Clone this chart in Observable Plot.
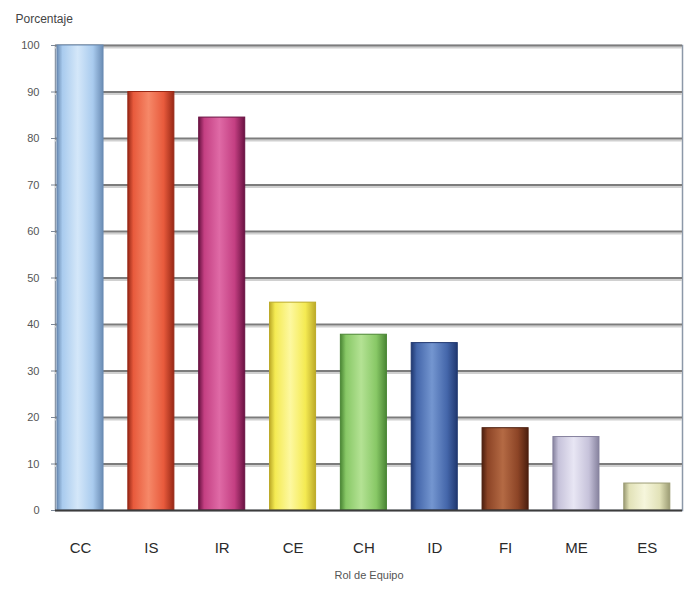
<!DOCTYPE html>
<html><head><meta charset="utf-8">
<script src="https://cdn.jsdelivr.net/npm/d3@7"></script>
<script src="https://cdn.jsdelivr.net/npm/@observablehq/plot@0.6"></script>
<style>body{margin:0;background:#fff;}</style>
</head><body><div id="chart"></div>
<script>
const roles = ["CC","IS","IR","CE","CH","ID","FI","ME","ES"];
const values = [100, 90, 84.5, 44.7, 37.8, 36, 17.7, 15.8, 5.8];
const baseColors  = ["#a9cbee","#e85a3c","#c43f82","#f4ea52","#88c866","#4466aa","#8c4426","#c6c2da","#e2e2b8"];
const lightColors = ["#d4e7f9","#f68868","#df6aa6","#fdf8a0","#b4e294","#7496d0","#b46a44","#e8e6f4","#f6f6dc"];
const darkColors  = ["#6a8cb4","#982816","#6a1242","#bcaa28","#4a8634","#203870","#4c1e0e","#86829e","#9c9c74"];
const yTicks = [0,10,20,30,40,50,60,70,80,90,100];
const yTitle = "Porcentaje";
const xTitle = "Rol de Equipo";

const data = roles.map((r, i) => ({role: r, value: values[i], grad: `url(#g-${r})`, dark: darkColors[i]}));

const chart = Plot.plot({
  width: 687,
  height: 589,
  marginLeft: 55,
  marginRight: 5,
  marginTop: 45,
  marginBottom: 79,
  style: {fontFamily: "Liberation Sans, Arial, sans-serif", background: "#fff"},
  x: {domain: roles, paddingInner: 0.35, paddingOuter: 0.1, align: 0.14, round: false, label: null},
  y: {domain: [0, 100], label: null},
  color: {type: "identity"},
  marks: [
    Plot.frame({stroke: "#8c98a8", strokeWidth: 1.5}),
    Plot.ruleY(yTicks.filter(d => d > 0), {stroke: "#d0d0d0", strokeWidth: 2, dy: 2}),
    Plot.ruleY(yTicks.filter(d => d > 0), {stroke: "#7c7c7c", strokeWidth: 2}),
    Plot.axisY({ticks: yTicks, tickSize: 4, tickPadding: 12, fontSize: 11, color: "#555", stroke: "#7c8898"}),
    Plot.axisX({tickSize: 0, tickPadding: 32, fontSize: 15, color: "#2a2a2a"}),
    Plot.barY(data, {x: "role", y: "value", fill: "grad", stroke: "dark", strokeWidth: 1}),
    Plot.ruleY([0], {stroke: "#3c3c3c", strokeWidth: 2}),
    Plot.text([yTitle], {frameAnchor: "top-left", textAnchor: "start", dx: -40, dy: -31, fontSize: 12, fill: "#444"}),
    Plot.text([xTitle], {frameAnchor: "bottom", dy: 68, fontSize: 11, fill: "#555"})
  ]
});

const defs = d3.select(chart).insert("defs", ":first-child");
roles.forEach((r, i) => {
  const g = defs.append("linearGradient").attr("id", `g-${r}`)
    .attr("x1", "0%").attr("x2", "100%").attr("y1", "0%").attr("y2", "0%");
  [[0, darkColors[i]], [0.12, baseColors[i]], [0.45, lightColors[i]], [0.78, baseColors[i]], [1, darkColors[i]]]
    .forEach(([o, c]) => g.append("stop").attr("offset", o).attr("stop-color", c));
});

document.getElementById("chart").appendChild(chart);
</script>
</body></html>
